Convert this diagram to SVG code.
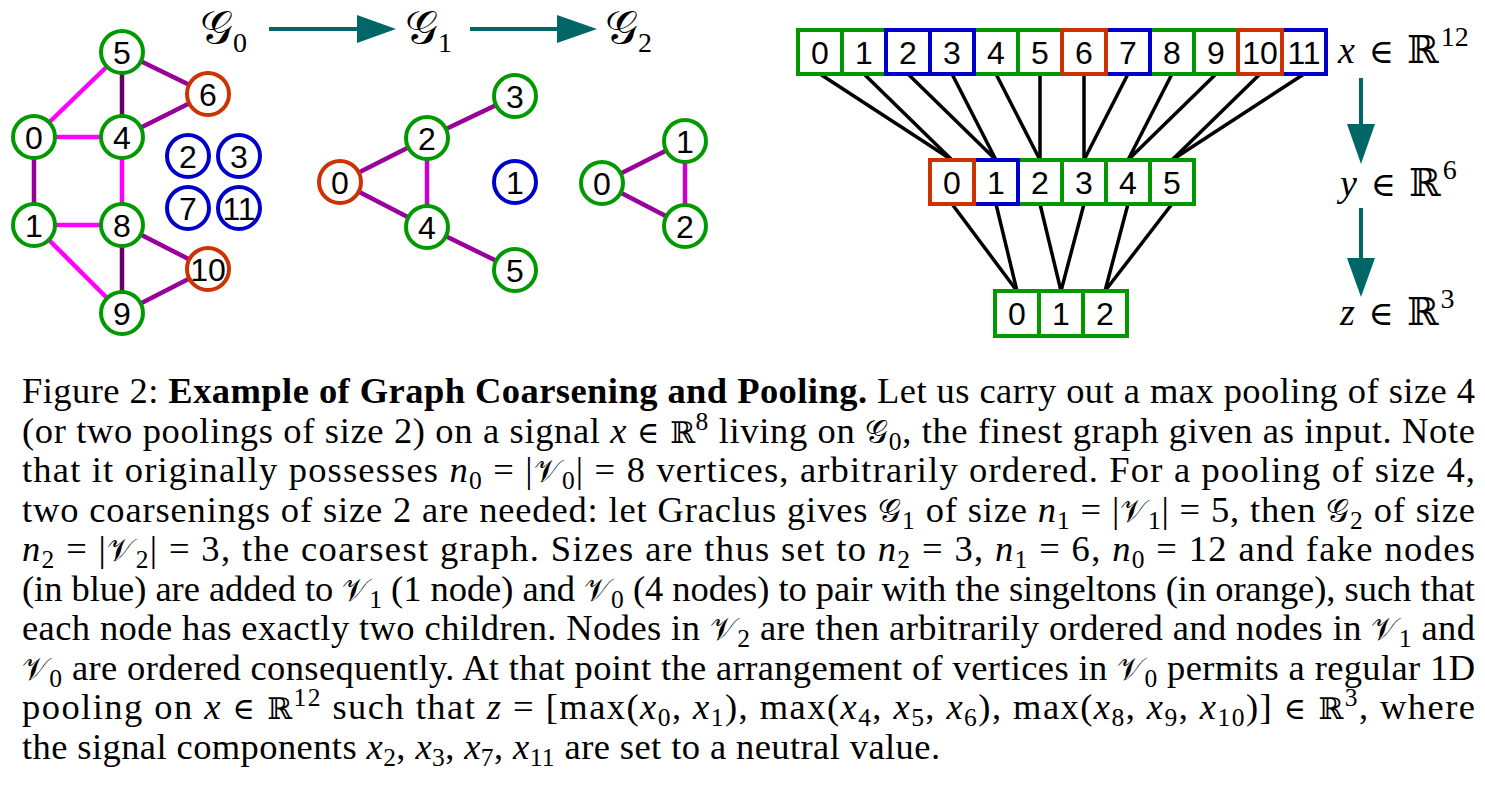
<svg xmlns="http://www.w3.org/2000/svg" width="1485" height="789" viewBox="0 0 1485 789">
<style>
.bg{fill:#fff}
.nd{fill:#fff;stroke-width:4}
.g{stroke:#009900}
.o{stroke:#cc3300}
.bl{stroke:#0000cc}
.lbl{font-family:"Liberation Sans",Arial,sans-serif;font-size:32px;fill:#000;text-anchor:middle}
.e{stroke-width:4.5;stroke-linecap:butt;fill:none}
.mg{stroke:#ff00ff}
.pu{stroke:#990099}
.dk{stroke:#660066}
.mc{stroke:#cc00cc}
.pl{stroke:#000;stroke-width:3.5}
.ar{stroke:#006666;stroke-width:4}
.ah{fill:#006666}
.math{font-family:"Liberation Serif","Times New Roman",serif;font-size:38px;fill:#000}
.it{font-style:italic}
.sym{font-family:"DejaVu Serif",serif}
.cal{font-family:"DejaVu Serif","DejaVu Sans",serif;font-size:46px}
.cap{font-family:"Liberation Serif","Times New Roman",serif;font-size:36.5px;fill:#000}
.b{font-weight:bold}
.s{font-size:25.5px}
.ts{font-size:28px}
.cs{font-size:32px;font-family:"DejaVu Serif",serif}
</style>
<rect class="bg" x="0" y="0" width="1485" height="789"/>

<g id="connectors">
  <!-- G0 edges -->
  <line class="e mg" x1="34" y1="137" x2="122" y2="52"/>
  <line class="e dk" x1="122" y1="52" x2="122" y2="137"/>
  <line class="e pu" x1="122" y1="52" x2="208" y2="94"/>
  <line class="e pu" x1="208" y1="94" x2="122" y2="137"/>
  <line class="e mg" x1="34" y1="137" x2="122" y2="137"/>
  <line class="e pu" x1="34" y1="137" x2="34" y2="225"/>
  <line class="e mg" x1="122" y1="137" x2="122" y2="225"/>
  <line class="e mg" x1="34" y1="225" x2="122" y2="225"/>
  <line class="e mg" x1="34" y1="225" x2="122" y2="313"/>
  <line class="e dk" x1="122" y1="225" x2="122" y2="313"/>
  <line class="e pu" x1="122" y1="225" x2="208" y2="269"/>
  <line class="e pu" x1="208" y1="269" x2="122" y2="313"/>
  <!-- G1 edges -->
  <line class="e pu" x1="340" y1="182" x2="427" y2="138"/>
  <line class="e pu" x1="427" y1="138" x2="515" y2="96"/>
  <line class="e mc" x1="427" y1="138" x2="427" y2="227"/>
  <line class="e pu" x1="340" y1="182" x2="427" y2="227"/>
  <line class="e pu" x1="427" y1="227" x2="515" y2="270"/>
  <!-- G2 edges -->
  <line class="e pu" x1="602" y1="183" x2="685" y2="141"/>
  <line class="e pu" x1="602" y1="183" x2="685" y2="226"/>
  <line class="e mc" x1="685" y1="141" x2="685" y2="226"/>
  <!-- top arrows -->
  <line class="ar" x1="269" y1="29" x2="359" y2="29"/>
  <polygon class="ah" points="357,15 396,29 357,43"/>
  <line class="ar" x1="470" y1="29" x2="559" y2="29"/>
  <polygon class="ah" points="557,15 597,29 557,43"/>
  <!-- down arrows -->
  <line class="ar" x1="1361" y1="78" x2="1361" y2="126"/>
  <polygon class="ah" points="1347,124 1375,124 1361,164"/>
  <line class="ar" x1="1361" y1="208" x2="1361" y2="260"/>
  <polygon class="ah" points="1347,258 1375,258 1361,297"/>
  <!-- pooling lines x -> y -->
  <line class="pl" x1="820" y1="74" x2="952" y2="160"/>
  <line class="pl" x1="864" y1="74" x2="952" y2="160"/>
  <line class="pl" x1="908" y1="74" x2="996" y2="160"/>
  <line class="pl" x1="952" y1="74" x2="996" y2="160"/>
  <line class="pl" x1="996" y1="74" x2="1040" y2="160"/>
  <line class="pl" x1="1040" y1="74" x2="1040" y2="160"/>
  <line class="pl" x1="1084" y1="74" x2="1084" y2="160"/>
  <line class="pl" x1="1128" y1="74" x2="1084" y2="160"/>
  <line class="pl" x1="1172" y1="74" x2="1128" y2="160"/>
  <line class="pl" x1="1216" y1="74" x2="1128" y2="160"/>
  <line class="pl" x1="1260" y1="74" x2="1172" y2="160"/>
  <line class="pl" x1="1304" y1="74" x2="1172" y2="160"/>
  <!-- pooling lines y -> z -->
  <line class="pl" x1="952" y1="204" x2="1017" y2="291"/>
  <line class="pl" x1="996" y1="204" x2="1017" y2="291"/>
  <line class="pl" x1="1040" y1="204" x2="1061" y2="291"/>
  <line class="pl" x1="1084" y1="204" x2="1061" y2="291"/>
  <line class="pl" x1="1128" y1="204" x2="1105" y2="291"/>
  <line class="pl" x1="1172" y1="204" x2="1105" y2="291"/>
</g>

<!-- G0 nodes -->
<g id="g0-n5"><circle class="nd g" cx="122" cy="52" r="21"/><text class="lbl" x="122" y="63.5">5</text></g>
<g id="g0-n6"><circle class="nd o" cx="208" cy="94" r="21"/><text class="lbl" x="208" y="105.5">6</text></g>
<g id="g0-n0"><circle class="nd g" cx="34" cy="137" r="21"/><text class="lbl" x="34" y="148.5">0</text></g>
<g id="g0-n4"><circle class="nd g" cx="122" cy="137" r="21"/><text class="lbl" x="122" y="148.5">4</text></g>
<g id="g0-n2"><circle class="nd bl" cx="188" cy="156" r="21"/><text class="lbl" x="188" y="167.5">2</text></g>
<g id="g0-n3"><circle class="nd bl" cx="239" cy="156" r="21"/><text class="lbl" x="239" y="167.5">3</text></g>
<g id="g0-n7"><circle class="nd bl" cx="188" cy="208" r="21"/><text class="lbl" x="188" y="219.5">7</text></g>
<g id="g0-n11"><circle class="nd bl" cx="239" cy="208" r="21"/><text class="lbl" x="239" y="219.5">11</text></g>
<g id="g0-n1"><circle class="nd g" cx="34" cy="225" r="21"/><text class="lbl" x="34" y="236.5">1</text></g>
<g id="g0-n8"><circle class="nd g" cx="122" cy="225" r="21"/><text class="lbl" x="122" y="236.5">8</text></g>
<g id="g0-n10"><circle class="nd o" cx="208" cy="269" r="21"/><text class="lbl" x="208" y="280.5">10</text></g>
<g id="g0-n9"><circle class="nd g" cx="122" cy="313" r="21"/><text class="lbl" x="122" y="324.5">9</text></g>

<!-- G1 nodes -->
<g id="g1-n0"><circle class="nd o" cx="340" cy="182" r="21"/><text class="lbl" x="340" y="193.5">0</text></g>
<g id="g1-n1"><circle class="nd bl" cx="515" cy="182" r="21"/><text class="lbl" x="515" y="193.5">1</text></g>
<g id="g1-n2"><circle class="nd g" cx="427" cy="138" r="21"/><text class="lbl" x="427" y="149.5">2</text></g>
<g id="g1-n3"><circle class="nd g" cx="515" cy="96" r="21"/><text class="lbl" x="515" y="107.5">3</text></g>
<g id="g1-n4"><circle class="nd g" cx="427" cy="227" r="21"/><text class="lbl" x="427" y="238.5">4</text></g>
<g id="g1-n5"><circle class="nd g" cx="515" cy="270" r="21"/><text class="lbl" x="515" y="281.5">5</text></g>

<!-- G2 nodes -->
<g id="g2-n0"><circle class="nd g" cx="602" cy="183" r="21"/><text class="lbl" x="602" y="194.5">0</text></g>
<g id="g2-n1"><circle class="nd g" cx="685" cy="141" r="21"/><text class="lbl" x="685" y="152.5">1</text></g>
<g id="g2-n2"><circle class="nd g" cx="685" cy="226" r="21"/><text class="lbl" x="685" y="237.5">2</text></g>

<!-- graph titles -->
<g id="title-g0"><text class="math" x="200" y="43"><tspan class="cal">𝒢</tspan><tspan class="ts" dy="9">0</tspan></text></g>
<g id="title-g1"><text class="math" x="405" y="43"><tspan class="cal">𝒢</tspan><tspan class="ts" dy="9">1</tspan></text></g>
<g id="title-g2"><text class="math" x="605" y="43"><tspan class="cal">𝒢</tspan><tspan class="ts" dy="9">2</tspan></text></g>

<!-- x row (12) -->
<g id="x-row">
  <g id="x0"><rect class="nd g" x="798" y="30" width="44" height="44"/><text class="lbl" x="820" y="64">0</text></g>
  <g id="x1"><rect class="nd g" x="842" y="30" width="44" height="44"/><text class="lbl" x="864" y="64">1</text></g>
  <g id="x4"><rect class="nd g" x="974" y="30" width="44" height="44"/><text class="lbl" x="996" y="64">4</text></g>
  <g id="x5"><rect class="nd g" x="1018" y="30" width="44" height="44"/><text class="lbl" x="1040" y="64">5</text></g>
  <g id="x8"><rect class="nd g" x="1150" y="30" width="44" height="44"/><text class="lbl" x="1172" y="64">8</text></g>
  <g id="x9"><rect class="nd g" x="1194" y="30" width="44" height="44"/><text class="lbl" x="1216" y="64">9</text></g>
  <g id="x2"><rect class="nd bl" x="886" y="30" width="44" height="44"/><text class="lbl" x="908" y="64">2</text></g>
  <g id="x3"><rect class="nd bl" x="930" y="30" width="44" height="44"/><text class="lbl" x="952" y="64">3</text></g>
  <g id="x7"><rect class="nd bl" x="1106" y="30" width="44" height="44"/><text class="lbl" x="1128" y="64">7</text></g>
  <g id="x11"><rect class="nd bl" x="1282" y="30" width="44" height="44"/><text class="lbl" x="1304" y="64">11</text></g>
  <g id="x6"><rect class="nd o" x="1062" y="30" width="44" height="44"/><text class="lbl" x="1084" y="64">6</text></g>
  <g id="x10"><rect class="nd o" x="1238" y="30" width="44" height="44"/><text class="lbl" x="1260" y="64">10</text></g>
</g>

<!-- y row (6) -->
<g id="y-row">
  <g id="y2"><rect class="nd g" x="1018" y="160" width="44" height="44"/><text class="lbl" x="1040" y="194">2</text></g>
  <g id="y3"><rect class="nd g" x="1062" y="160" width="44" height="44"/><text class="lbl" x="1084" y="194">3</text></g>
  <g id="y4"><rect class="nd g" x="1106" y="160" width="44" height="44"/><text class="lbl" x="1128" y="194">4</text></g>
  <g id="y5"><rect class="nd g" x="1150" y="160" width="44" height="44"/><text class="lbl" x="1172" y="194">5</text></g>
  <g id="y1"><rect class="nd bl" x="974" y="160" width="44" height="44"/><text class="lbl" x="996" y="194">1</text></g>
  <g id="y0"><rect class="nd o" x="930" y="160" width="44" height="44"/><text class="lbl" x="952" y="194">0</text></g>
</g>

<!-- z row (3) -->
<g id="z-row">
  <g id="z0"><rect class="nd g" x="995" y="291" width="44" height="45"/><text class="lbl" x="1017" y="325">0</text></g>
  <g id="z1"><rect class="nd g" x="1039" y="291" width="44" height="45"/><text class="lbl" x="1061" y="325">1</text></g>
  <g id="z2"><rect class="nd g" x="1083" y="291" width="44" height="45"/><text class="lbl" x="1105" y="325">2</text></g>
</g>

<!-- signal labels -->
<g id="label-x"><text class="math" x="1338" y="63"><tspan class="it">x</tspan> <tspan class="sym" font-size="34" dx="4">∈</tspan> <tspan class="sym" font-size="38" dx="4">ℝ</tspan><tspan class="ts" dx="2" dy="-17">12</tspan></text></g>
<g id="label-y"><text class="math" x="1340" y="196"><tspan class="it">y</tspan> <tspan class="sym" font-size="34" dx="4">∈</tspan> <tspan class="sym" font-size="38" dx="4">ℝ</tspan><tspan class="ts" dx="2" dy="-17">6</tspan></text></g>
<g id="label-z"><text class="math" x="1340" y="325"><tspan class="it">z</tspan> <tspan class="sym" font-size="34" dx="4">∈</tspan> <tspan class="sym" font-size="38" dx="4">ℝ</tspan><tspan class="ts" dx="2" dy="-17">3</tspan></text></g>

<!-- caption -->
<g id="caption" class="cap">
<text x="22" y="403" textLength="1453" lengthAdjust="spacing">Figure 2: <tspan class="b">Example of Graph Coarsening and Pooling.</tspan> Let us carry out a max pooling of size 4</text>
<text x="22" y="442.5" textLength="1453" lengthAdjust="spacing">(or two poolings of size 2) on a signal <tspan class="it">x</tspan> <tspan class="sym" font-size="30">∈ ℝ</tspan><tspan class="s" dy="-13">8</tspan><tspan dy="13"> living on </tspan><tspan class="cs">𝒢</tspan><tspan class="s" dy="7">0</tspan><tspan dy="-7">, the finest graph given as input. Note</tspan></text>
<text x="22" y="482" textLength="1453" lengthAdjust="spacing">that it originally possesses <tspan class="it">n</tspan><tspan class="s" dy="7">0</tspan><tspan dy="-7"> = |</tspan><tspan class="cs">𝒱</tspan><tspan class="s" dy="7">0</tspan><tspan dy="-7">| = 8 vertices, arbitrarily ordered. For a pooling of size 4,</tspan></text>
<text x="22" y="521.5" textLength="1453" lengthAdjust="spacing">two coarsenings of size 2 are needed: let Graclus gives <tspan class="cs">𝒢</tspan><tspan class="s" dy="7">1</tspan><tspan dy="-7"> of size </tspan><tspan class="it">n</tspan><tspan class="s" dy="7">1</tspan><tspan dy="-7"> = |</tspan><tspan class="cs">𝒱</tspan><tspan class="s" dy="7">1</tspan><tspan dy="-7">| = 5, then </tspan><tspan class="cs">𝒢</tspan><tspan class="s" dy="7">2</tspan><tspan dy="-7"> of size</tspan></text>
<text x="22" y="561" textLength="1453" lengthAdjust="spacing"><tspan class="it">n</tspan><tspan class="s" dy="7">2</tspan><tspan dy="-7"> = |</tspan><tspan class="cs">𝒱</tspan><tspan class="s" dy="7">2</tspan><tspan dy="-7">| = 3, the coarsest graph. Sizes are thus set to </tspan><tspan class="it">n</tspan><tspan class="s" dy="7">2</tspan><tspan dy="-7"> = 3, </tspan><tspan class="it">n</tspan><tspan class="s" dy="7">1</tspan><tspan dy="-7"> = 6, </tspan><tspan class="it">n</tspan><tspan class="s" dy="7">0</tspan><tspan dy="-7"> = 12 and fake nodes</tspan></text>
<text x="22" y="600.5" textLength="1453" lengthAdjust="spacing">(in blue) are added to <tspan class="cs">𝒱</tspan><tspan class="s" dy="7">1</tspan><tspan dy="-7"> (1 node) and </tspan><tspan class="cs">𝒱</tspan><tspan class="s" dy="7">0</tspan><tspan dy="-7"> (4 nodes) to pair with the singeltons (in orange), such that</tspan></text>
<text x="22" y="640" textLength="1453" lengthAdjust="spacing">each node has exactly two children. Nodes in <tspan class="cs">𝒱</tspan><tspan class="s" dy="7">2</tspan><tspan dy="-7"> are then arbitrarily ordered and nodes in </tspan><tspan class="cs">𝒱</tspan><tspan class="s" dy="7">1</tspan><tspan dy="-7"> and</tspan></text>
<text x="22" y="679.5" textLength="1453" lengthAdjust="spacing"><tspan class="cs">𝒱</tspan><tspan class="s" dy="7">0</tspan><tspan dy="-7"> are ordered consequently. At that point the arrangement of vertices in </tspan><tspan class="cs">𝒱</tspan><tspan class="s" dy="7">0</tspan><tspan dy="-7"> permits a regular 1D</tspan></text>
<text x="22" y="719" textLength="1453" lengthAdjust="spacing">pooling on <tspan class="it">x</tspan> <tspan class="sym" font-size="30">∈ ℝ</tspan><tspan class="s" dy="-13">12</tspan><tspan dy="13"> such that </tspan><tspan class="it">z</tspan> = [max(<tspan class="it">x</tspan><tspan class="s" dy="7">0</tspan><tspan dy="-7">, </tspan><tspan class="it">x</tspan><tspan class="s" dy="7">1</tspan><tspan dy="-7">), max(</tspan><tspan class="it">x</tspan><tspan class="s" dy="7">4</tspan><tspan dy="-7">, </tspan><tspan class="it">x</tspan><tspan class="s" dy="7">5</tspan><tspan dy="-7">, </tspan><tspan class="it">x</tspan><tspan class="s" dy="7">6</tspan><tspan dy="-7">), max(</tspan><tspan class="it">x</tspan><tspan class="s" dy="7">8</tspan><tspan dy="-7">, </tspan><tspan class="it">x</tspan><tspan class="s" dy="7">9</tspan><tspan dy="-7">, </tspan><tspan class="it">x</tspan><tspan class="s" dy="7">10</tspan><tspan dy="-7">)] </tspan><tspan class="sym" font-size="30">∈ ℝ</tspan><tspan class="s" dy="-13">3</tspan><tspan dy="13">, where</tspan></text>
<text x="22" y="758.5" textLength="918" lengthAdjust="spacing">the signal components <tspan class="it">x</tspan><tspan class="s" dy="7">2</tspan><tspan dy="-7">, </tspan><tspan class="it">x</tspan><tspan class="s" dy="7">3</tspan><tspan dy="-7">, </tspan><tspan class="it">x</tspan><tspan class="s" dy="7">7</tspan><tspan dy="-7">, </tspan><tspan class="it">x</tspan><tspan class="s" dy="7">11</tspan><tspan dy="-7"> are set to a neutral value.</tspan></text>
</g>
</svg>
